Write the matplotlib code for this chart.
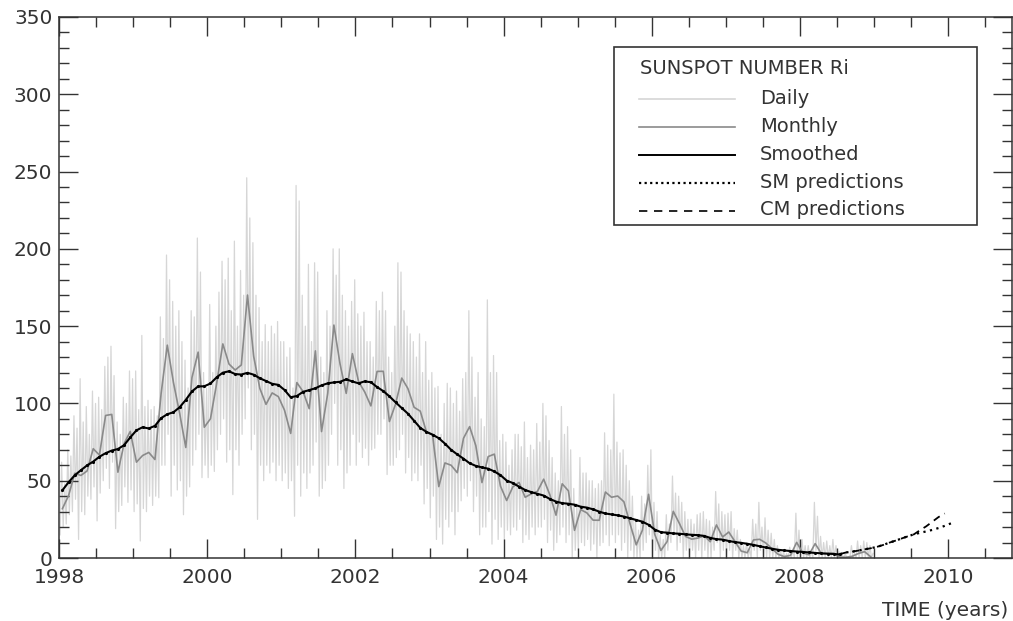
import numpy as np
import matplotlib
matplotlib.use('Agg')
import matplotlib.pyplot as plt
from matplotlib.lines import Line2D
from matplotlib.patches import Rectangle

# monthly mean sunspot number, Jan 1998 .. Dec 2008
monthly = [31.9, 40.3, 54.8, 53.4, 56.3, 70.7, 66.6, 92.2, 92.9, 55.5, 74.0, 81.9,
           62.0, 66.3, 68.3, 63.7, 106.4, 137.7, 113.5, 93.7, 71.5, 116.7, 133.2, 84.6,
           90.1, 112.9, 138.5, 125.5, 121.6, 124.9, 170.1, 130.5, 109.7, 99.4, 106.8, 104.4,
           95.6, 80.6, 113.5, 107.7, 96.6, 134.0, 81.8, 106.4, 150.7, 125.5, 106.5, 132.2,
           114.1, 107.4, 98.4, 120.7, 120.8, 88.3, 99.6, 116.4, 109.6, 97.5, 95.0, 81.6,
           79.5, 46.2, 61.5, 60.0, 55.2, 77.4, 85.0, 72.7, 48.8, 65.6, 67.2, 46.5,
           37.2, 46.0, 48.9, 39.3, 41.5, 43.2, 51.0, 40.9, 27.7, 48.0, 43.5, 17.9,
           31.3, 29.2, 24.5, 24.4, 42.7, 39.3, 40.1, 36.4, 22.1, 8.5, 18.0, 41.2,
           15.3, 4.9, 10.6, 30.2, 22.3, 13.9, 12.2, 12.9, 14.4, 10.5, 21.4, 13.6,
           16.8, 10.7, 4.5, 3.4, 11.7, 12.1, 9.7, 6.0, 2.4, 0.9, 1.7, 10.1,
           3.3, 2.1, 9.3, 2.9, 2.9, 3.1, 0.5, 0.5, 1.1, 2.9, 4.1, 0.8]

# 13-month smoothed, Jan 1998 .. Jul 2008
smoothed = [43.8, 49.0, 53.5, 56.8, 59.9, 62.4, 65.5, 67.8, 69.5, 70.5, 73.0, 78.0,
            82.6, 84.6, 83.8, 85.5, 90.5, 93.0, 94.3, 97.5, 102.3, 107.8, 111.0, 111.1,
            112.9, 116.9, 119.9, 120.8, 119.0, 118.7, 119.8, 118.6, 116.3, 114.5, 112.7, 112.0,
            108.7, 104.0, 104.8, 107.5, 108.6, 109.8, 111.7, 113.0, 113.6, 114.0, 115.6, 114.2,
            113.0, 114.3, 113.7, 110.6, 108.0, 104.6, 100.7, 97.0, 93.4, 88.8, 84.2, 81.6,
            79.8, 77.5, 74.0, 70.0, 67.0, 64.3, 61.3, 59.6, 58.6, 57.8, 56.0, 53.6,
            50.1, 48.5, 46.2, 44.0, 42.6, 41.5, 40.4, 38.2, 36.5, 35.5, 35.1, 34.5,
            33.2, 32.6, 31.5, 30.0, 28.8, 28.2, 27.6, 26.8, 25.7, 24.6, 23.5, 21.5,
            18.4, 16.7, 16.4, 15.9, 15.7, 15.3, 15.0, 14.8, 14.3, 13.0, 12.2, 11.9,
            11.0, 10.3, 9.8, 9.2, 8.5, 7.6, 6.8, 6.0, 5.3, 4.9, 4.5, 4.2,
            3.9, 3.6, 3.3, 3.0, 2.8, 2.6, 2.3]

# daily values, 4 readings per month, Jan 1998 .. Dec 2008
daily = [
    15, 62, 20, 48,  22, 70, 28, 66,  30, 92, 38, 84,  12, 116, 30, 88,
    28, 98, 40, 80,  38, 108, 46, 100,  24, 104, 42, 96,  50, 124, 58, 130,
    45, 137, 62, 118,  19, 88, 30, 80,  34, 104, 46, 100,  36, 121, 44, 116,
    30, 121, 35, 96,  11, 144, 32, 98,  30, 102, 40, 96,  34, 98, 40, 92,
    39, 156, 60, 142,  60, 196, 80, 180,  40, 166, 60, 150,  44, 160, 50, 140,
    28, 128, 40, 110,  46, 160, 60, 156,  70, 207, 80, 185,  52, 120, 60, 110,
    52, 164, 60, 120,  56, 150, 70, 172,  80, 192, 90, 180,  62, 194, 70, 160,
    41, 205, 70, 150,  60, 186, 80, 170,  90, 246, 110, 220,  70, 204, 80, 170,
    25, 162, 60, 140,  50, 151, 60, 140,  55, 150, 62, 145,  50, 153, 60, 140,
    50, 140, 55, 130,  45, 136, 50, 110,  27, 241, 60, 231,  40, 170, 55, 150,
    45, 190, 55, 140,  60, 191, 75, 185,  40, 130, 45, 120,  50, 160, 60, 150,
    80, 200, 100, 183,  60, 200, 70, 170,  45, 160, 55, 150,  60, 166, 80, 180,
    60, 158, 75, 150,  65, 159, 71, 140,  60, 140, 70, 130,  71, 166, 80, 160,
    80, 172, 90, 160,  54, 130, 60, 120,  60, 150, 65, 191,  70, 185, 80, 160,
    55, 150, 65, 145,  50, 140, 55, 130,  50, 145, 60, 120,  35, 140, 45, 115,
    26, 120, 40, 110,  12, 111, 20, 80,  9, 100, 25, 113,  20, 110, 30, 100,
    15, 108, 30, 95,  37, 116, 45, 120,  40, 160, 50, 130,  30, 104, 40, 120,
    15, 90, 20, 85,  20, 167, 30, 120,  9, 131, 25, 120,  12, 76, 20, 80,
    12, 75, 18, 60,  15, 70, 20, 80,  18, 80, 25, 72,  10, 88, 15, 65,
    12, 73, 20, 70,  15, 87, 20, 75,  20, 100, 25, 92,  10, 76, 18, 65,
    5, 55, 10, 50,  15, 98, 20, 80,  10, 85, 15, 70,  0, 45, 5, 35,
    5, 65, 10, 55,  8, 55, 12, 50,  5, 50, 9, 45,  0, 48, 8, 50,
    10, 81, 15, 73,  8, 70, 15, 106,  10, 75, 15, 68,  5, 70, 10, 60,
    0, 50, 5, 40,  0, 25, 0, 18,  0, 40, 5, 35,  10, 60, 15, 70,
    0, 36, 5, 30,  0, 15, 0, 12,  0, 28, 5, 22,  10, 53, 15, 42,
    5, 40, 10, 36,  0, 30, 5, 25,  0, 25, 5, 22,  0, 28, 5, 29,
    0, 30, 5, 25,  0, 24, 0, 20,  5, 43, 10, 35,  0, 30, 5, 28,
    0, 29, 5, 30,  0, 19, 5, 18,  0, 12, 0, 8,  0, 10, 0, 6,
    0, 25, 5, 22,  0, 36, 5, 20,  0, 26, 0, 18,  0, 16, 0, 12,
    0, 8, 0, 5,  0, 4, 0, 3,  0, 7, 0, 5,  0, 29, 0, 18,
    0, 12, 0, 8,  0, 8, 0, 5,  0, 36, 5, 27,  0, 14, 0, 10,
    0, 11, 0, 8,  0, 12, 0, 8,  0, 4, 0, 2,  0, 3, 0, 0,
    0, 8, 0, 3,  0, 11, 0, 8,  0, 11, 0, 10,  0, 8, 0, 3,
]

# predictions from Jul 2008
sm_pred = [2.5, 3.6, 4.1, 4.8, 5.6, 6.3, 7.2, 8.4, 9.9, 11.2, 12.6, 14.0, 15.3,
           16.3, 17.2, 18.2, 19.4, 20.8, 22.4]
cm_pred = [2.5, 3.6, 4.1, 4.8, 5.6, 6.3, 7.2, 8.4, 9.9, 11.2, 12.6, 14.0, 15.3,
           18.0, 20.5, 23.5, 26.5, 28.8]

t_month = 1998 + (np.arange(len(monthly)) + 0.5) / 12
t_smooth = 1998 + (np.arange(len(smoothed)) + 0.5) / 12
t_daily = 1998 + (np.arange(len(daily)) + 0.5) / 48
t_sm = t_smooth[-1] + np.arange(len(sm_pred)) / 12
t_cm = t_smooth[-1] + np.arange(len(cm_pred)) / 12

W, H = 1013, 621
fig = plt.figure(figsize=(W / 100, H / 100), dpi=100)
ax = fig.add_axes([59.3 / W, 1 - 558 / H, (1011.5 - 59.3) / W, (558 - 17) / H])

dark = '#333333'
ax.plot(t_daily, daily, color='#d6d6d6', lw=0.9, zorder=1)
ax.plot(t_month, monthly, color='#8a8a8a', lw=1.2, zorder=2)
ax.plot(t_smooth, smoothed, color='black', lw=1.5, marker='.', ms=2.5, zorder=3)
ax.plot(t_sm, sm_pred, color='black', lw=1.6, ls=(0, (1, 2)), zorder=3)
ax.plot(t_cm, cm_pred, color='black', lw=1.3, ls=(0, (4, 3)), zorder=3)

ax.set_xlim(1998, 2010.86)
ax.set_ylim(0, 350)
ax.set_xticks(np.arange(1998, 2011, 2))
ax.set_xticks(np.arange(1998, 2011, 0.5), minor=True)
ax.set_yticks(np.arange(0, 351, 50))
ax.set_yticks(np.arange(0, 351, 10), minor=True)
ax.tick_params(which='both', direction='in', top=True, right=True, color=dark, width=1)
ax.tick_params(which='major', length=14, labelsize=14.5, labelcolor=dark)
ax.tick_params(which='minor', length=7)
ax.tick_params(axis='x', pad=7)
ax.tick_params(axis='y', pad=5)
for s in ax.spines.values():
    s.set_color(dark)
    s.set_linewidth(1.1)

fig.text(1008 / W, 1 - 610 / H, 'TIME (years)', ha='right', va='center',
         fontsize=14.5, color=dark)

# legend box
def fx(px):
    return px / W

def fy(py):
    return 1 - py / H

fig.add_artist(Rectangle((fx(614), fy(225)), fx(977) - fx(614), fy(47) - fy(225),
                         transform=fig.transFigure, fill=False, ec=dark, lw=1.2))
fig.text(fx(640), fy(68), 'SUNSPOT NUMBER Ri', ha='left', va='center',
         fontsize=14, color=dark)
entries = [('Daily', dict(color='#d6d6d6', lw=1.2)),
           ('Monthly', dict(color='#8a8a8a', lw=1.2)),
           ('Smoothed', dict(color='black', lw=1.4)),
           ('SM predictions', dict(color='black', lw=1.6, ls=(0, (1, 1.5)))),
           ('CM predictions', dict(color='black', lw=1.2, ls=(0, (5, 4))))]
ys = [99, 127, 155, 183, 211]
for (name, style), y in zip(entries, ys):
    fig.add_artist(Line2D([fx(639), fx(735)], [fy(y), fy(y)],
                          transform=fig.transFigure, **style))
    fig.text(fx(760), fy(y - 1), name, ha='left', va='center',
             fontsize=14, color=dark)

fig.savefig('out.png', dpi=100)
